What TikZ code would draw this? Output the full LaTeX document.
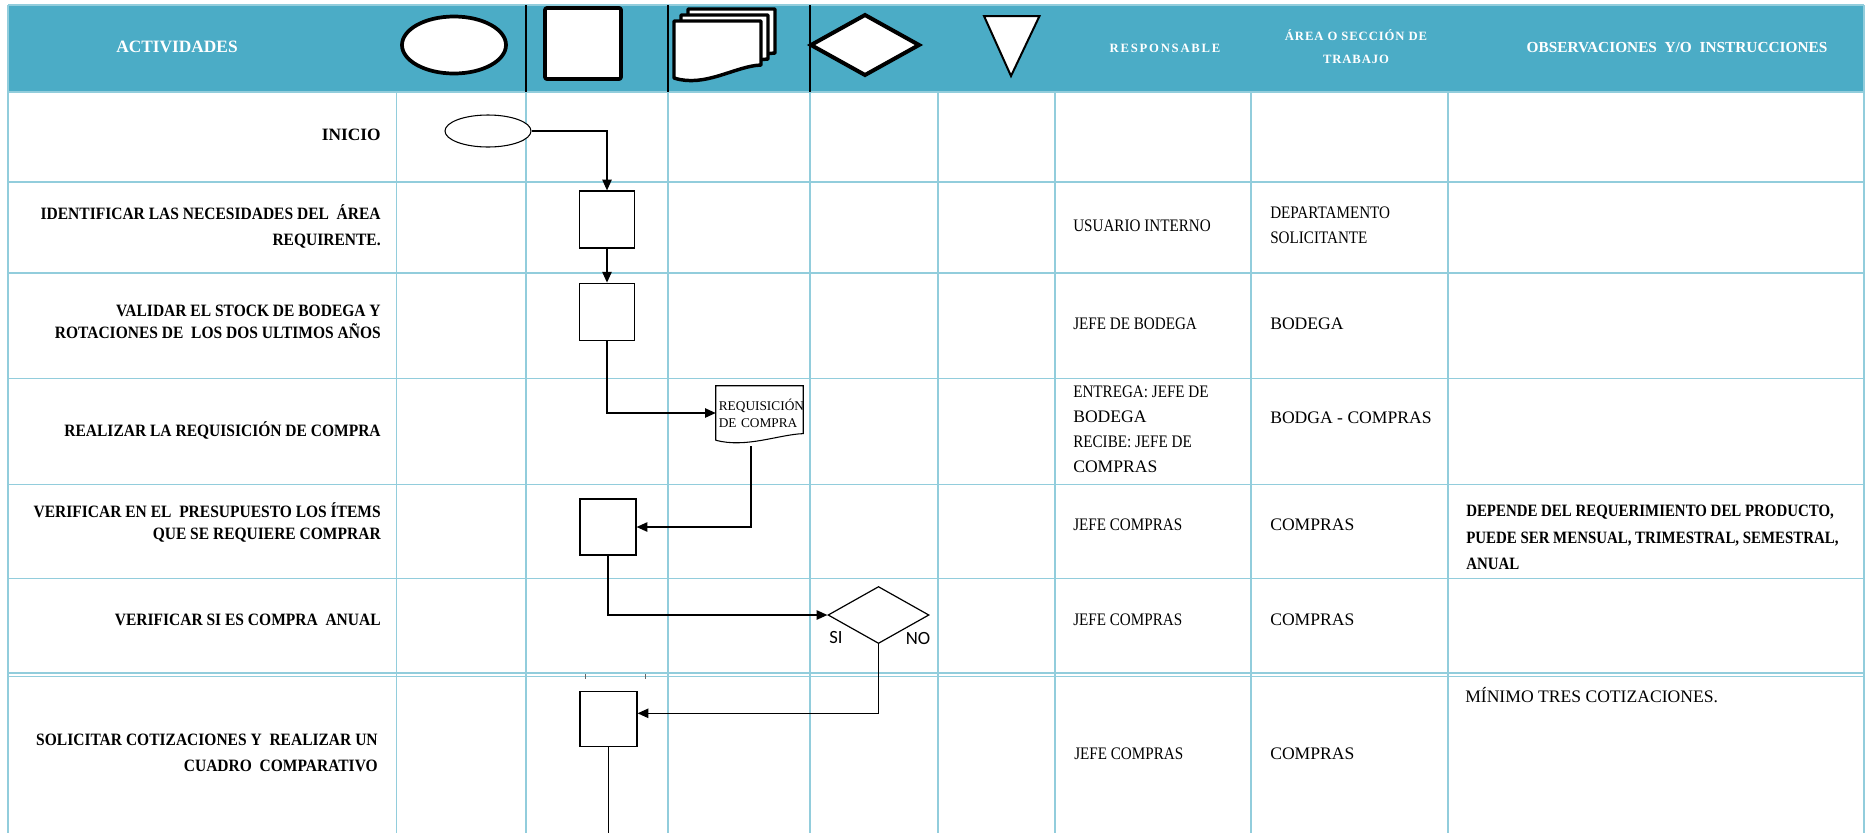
\documentclass[tikz,border=0pt]{standalone}
\usepackage{fontspec}
\setmainfont{Liberation Serif}
\newfontfamily\condfam[FakeStretch=0.86]{Liberation Serif}
\newfontfamily\actfam[FakeStretch=0.895]{Liberation Serif}
\newfontfamily\spacefam[LetterSpace=14]{Liberation Serif}
\newfontfamily\spacefamB[LetterSpace=7]{Liberation Serif}
\newfontfamily\sansfam{Carlito}
\usetikzlibrary{shapes.geometric,arrows.meta}
\definecolor{hdr}{RGB}{75,172,198}
\definecolor{gridc}{RGB}{146,205,220}
\begin{document}
\begin{tikzpicture}[x=0.75pt,y=-0.75pt,
  gridline/.style={draw=gridc, line width=1pt},
  sepline/.style={draw=black, line width=0.8pt},
  icon/.style={draw=black, fill=white, line width=2.8pt, line join=round},
  procbox/.style={draw=black, line width=0.9pt, fill=white, minimum width=41.25pt, minimum height=42.75pt, inner sep=0pt},
  flow/.style={draw=black, line width=1pt, -{Triangle[length=8pt,width=7pt]}},
  plainline/.style={draw=black, line width=1pt},
  acttext/.style={anchor=east, align=right, inner sep=0pt, font={\actfam\bfseries\fontsize{13}{19.5}\selectfont}},
  celltext/.style={anchor=west, align=left, inner sep=0pt, font={\condfam\fontsize{13.2}{18.75}\selectfont}},
  normtext/.style={anchor=west, align=left, inner sep=0pt, font={\fontsize{13.2}{18.75}\selectfont}},
  obstext/.style={anchor=west, align=left, inner sep=0pt, font={\condfam\bfseries\fontsize{13}{19.9}\selectfont}},
  hdrtext/.style={text=white, inner sep=0pt, align=center},
  lbl/.style={inner sep=0pt, font={\sansfam\fontsize{14}{14}\selectfont}}
]
\useasboundingbox (0,0) rectangle (1867,833);
% header band
\fill[hdr] (8,5) rectangle (1864,92);
% grid
\foreach \yy in {5,92,182,273,378.6,484.6,578.7,673,676.5}
  \draw[gridline] (8,\yy) -- (1864,\yy);
\foreach \xx in {8,1864}
  \draw[gridline] (\xx,5) -- (\xx,833);
\foreach \xx in {396.5,526,668,810,938,1055,1251,1448}
  \draw[gridline] (\xx,92) -- (\xx,833);
\foreach \xx in {526,668,810}
  \draw[sepline] (\xx,5) -- (\xx,92);
\draw[draw=black!60, line width=0.6pt] (585.7,674) -- (585.7,679);
\draw[draw=black!60, line width=0.6pt] (645.5,674) -- (645.5,679);

% header icons
\draw[icon] (454,45) ellipse [x radius=52, y radius=28.5];
\draw[icon, rounded corners=1.5pt] (545,8) rectangle (621,79);
\foreach \dx/\dy in {14/-12, 7/-6, 0/0}{
  \begin{scope}[shift={(\dx,\dy)}]
    \draw[icon, line width=2.6pt] (674,21) -- (761,21) -- (761,65) .. controls (735,66) and (705,88) .. (674,78) -- cycle;
  \end{scope}
}
\draw[icon, line width=3pt, line join=miter] (811,45) -- (865,15) -- (919,45) -- (865,75) -- cycle;
\draw[icon, line width=1.5pt, line join=miter] (984,16) -- (1039.5,16) -- (1011,76) -- cycle;

% header texts
\node[hdrtext, font={\bfseries\fontsize{13}{13}\selectfont}] (hact) at (177,47) {ACTIVIDADES};
\node[hdrtext, font={\spacefam\bfseries\fontsize{9.5}{9.5}\selectfont}] (hresp) at (1165,48) {RESPONSABLE};
\node[hdrtext, font={\spacefamB\bfseries\fontsize{9.5}{17}\selectfont}] (harea) at (1356,46.5) {ÁREA O SECCIÓN DE\\TRABAJO};
\node[hdrtext, font={\bfseries\fontsize{11.5}{11.5}\selectfont}] (hobs) at (1677,48) {OBSERVACIONES\ \ Y/O\ \ INSTRUCCIONES};

% activity texts
\node[acttext, font={\bfseries\fontsize{13}{19.5}\selectfont}] (t1) at (381,134.5) {INICIO};
\node[acttext] (t2) at (381,226) {IDENTIFICAR LAS NECESIDADES DEL\ \ ÁREA\\REQUIRENTE.};
\node[acttext, font={\actfam\bfseries\fontsize{13}{17}\selectfont}] (t3) at (381,322) {VALIDAR EL STOCK DE BODEGA Y\\ROTACIONES DE\ \ LOS DOS ULTIMOS AÑOS};
\node[acttext] (t4) at (381,430) {REALIZAR LA REQUISICIÓN DE COMPRA};
\node[acttext, font={\actfam\bfseries\fontsize{13}{17}\selectfont}] (t5) at (381,522.5) {VERIFICAR EN EL\ \ PRESUPUESTO LOS ÍTEMS\\QUE SE REQUIERE COMPRAR};
\node[acttext] (t6) at (381,620) {VERIFICAR SI ES COMPRA\ \ ANUAL};
\node[acttext] (t7) at (378,752.5) {SOLICITAR COTIZACIONES Y\ \ REALIZAR UN\\CUADRO\ \ COMPARATIVO};

% responsable
\node[celltext] (r2) at (1073,226) {USUARIO INTERNO};
\node[celltext] (r3) at (1073,324) {JEFE DE BODEGA};
\node[normtext] (r4) at (1073,429.5) {{\condfam ENTREGA: JEFE DE}\\BODEGA\\{\condfam RECIBE: JEFE DE}\\COMPRAS};
\node[celltext] (r5) at (1073,525) {JEFE COMPRAS};
\node[celltext] (r6) at (1073,620) {JEFE COMPRAS};
\node[celltext] (r7) at (1074,753.5) {JEFE COMPRAS};

% area
\node[celltext] (a2) at (1270,225.5) {DEPARTAMENTO\\SOLICITANTE};
\node[normtext] (a3) at (1270,324) {BODEGA};
\node[normtext] (a4) at (1270,418) {BODGA - COMPRAS};
\node[normtext] (a5) at (1270,525) {COMPRAS};
\node[normtext] (a6) at (1270,620) {COMPRAS};
\node[normtext] (a7) at (1270,753.5) {COMPRAS};

% observaciones
\node[obstext] (o5) at (1466,537.5) {DEPENDE DEL REQUERIMIENTO DEL PRODUCTO,\\PUEDE SER MENSUAL, TRIMESTRAL, SEMESTRAL,\\ANUAL};
\node[normtext] (o7) at (1465,695) {MÍNIMO TRES COTIZACIONES.};

% flow shapes
\node[ellipse, draw=black, line width=0.8pt, fill=white, minimum width=64.5pt, minimum height=24pt, inner sep=0pt] (start) at (488,131) {};
\node[procbox] (b1) at (607,219.5) {};
\node[procbox] (b2) at (607,311.7) {};
\node[procbox, minimum width=42pt, minimum height=42pt] (b3) at (608,527) {};
\node[procbox, minimum width=42.75pt, minimum height=41.25pt] (b4) at (608.5,719.3) {};
\node[inner xsep=2pt, inner ysep=0pt, minimum width=65.25pt, minimum height=40.5pt, text width=61pt, align=left, font={\fontsize{10}{13}\selectfont}] (req) at (759.5,413) {REQUISICIÓN\\DE COMPRA};
\draw[draw=black, line width=0.8pt] (req.south west) -- (req.north west) -- (req.north east) -- ([yshift=5pt]req.south east) .. controls +(-19pt,-0.8pt) and +(23pt,-6pt) .. (req.south west);
\node[diamond, draw=black, line width=0.9pt, fill=white, aspect=1.77, minimum width=75.75pt, minimum height=42.75pt, inner sep=0pt] (dia) at (878.5,615) {};
\node[lbl] (si) at (836,637) {SI};
\node[lbl] (no) at (918,638) {NO};
\coordinate (bottomend) at (610,833);

% connectors
\draw[flow] (start.east) -| (b1.north);
\draw[flow] (b1.south) -- (b2.north);
\draw[flow] (b2.south) |- (req.west);
\draw[flow] ([xshift=-6.4pt,yshift=-4.5pt]req.south) |- (b3.east);
\draw[flow] (b3.south) |- (dia.west);
\draw[flow] (dia.south) |- ([yshift=4.5pt]b4.east);
\draw[plainline] (b4.south) -- (b4.south |- bottomend);
\end{tikzpicture}
\end{document}
